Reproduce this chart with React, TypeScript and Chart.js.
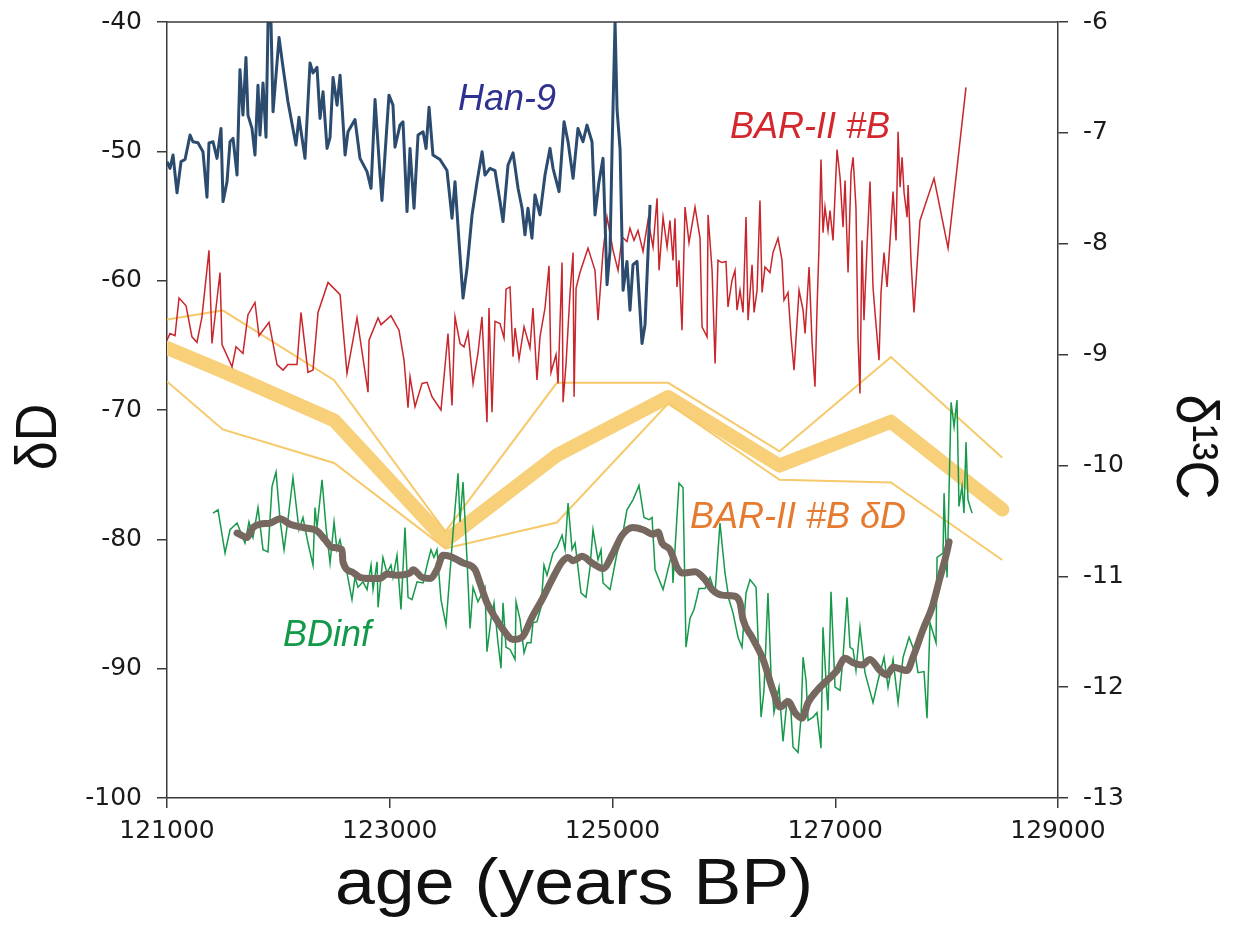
import { useEffect, useRef } from 'react';
import { Chart, registerables } from 'chart.js';

Chart.register(...registerables);

// ---------- Han-9 (δ13C, right axis) ----------
const hanAge = [121000,121027,121054,121090,121126,121162,121207,121233,121278,121323,
121359,121377,121413,121449,121485,121503,121539,121566,121593,121629,
121655,121682,121709,121727,121763,121790,121817,121835,121862,121889,
121907,121934,121952,122006,122042,122086,122158,122185,122239,122284,
122311,122347,122374,122401,122437,122464,122491,122527,122554,122599,
122625,122688,122733,122796,122832,122868,122913,122930,122957,122993,
123029,123047,123092,123119,123155,123182,123218,123254,123299,123326,
123353,123388,123451,123514,123559,123586,123622,123658,123694,123739,
123784,123829,123855,123900,123945,123990,124017,124062,124107,124152,
124188,124214,124241,124277,124304,124349,124394,124439,124466,124520,
124565,124601,124646,124690,124735,124771,124816,124843,124879,124915,
124951,124978,124996,125023,125041,125068,125095,125130,125157,125184,
125220,125265,125292,125337];
const hanC = [-7.26,-7.32,-7.20,-7.54,-7.26,-7.24,-7.02,-7.08,-7.09,-7.17,
-7.58,-7.09,-7.08,-7.23,-6.96,-7.62,-7.44,-7.08,-7.05,-7.38,
-6.43,-6.84,-6.32,-6.84,-6.96,-7.20,-6.57,-7.02,-6.55,-7.04,
-6.01,-6.01,-6.81,-6.14,-6.41,-6.72,-7.11,-6.86,-7.23,-6.37,
-6.46,-6.41,-6.87,-6.63,-7.14,-7.04,-6.50,-6.75,-6.48,-7.20,
-6.99,-6.88,-7.23,-7.35,-7.50,-6.70,-7.38,-7.61,-7.20,-6.66,
-6.75,-7.13,-6.93,-6.90,-7.71,-7.14,-7.68,-7.02,-6.99,-7.14,
-6.77,-7.20,-7.24,-7.34,-7.77,-7.44,-7.98,-8.49,-8.22,-7.74,
-7.44,-7.17,-7.38,-7.32,-7.34,-7.62,-7.80,-7.29,-7.18,-7.50,
-7.68,-7.92,-7.68,-7.95,-7.56,-7.74,-7.38,-7.14,-7.32,-7.53,
-6.90,-7.08,-7.41,-6.96,-7.08,-6.93,-7.08,-7.74,-7.44,-7.23,
-8.37,-8.06,-7.15,-6.00,-6.79,-7.15,-8.42,-8.16,-8.60,-8.19,
-8.16,-8.90,-8.73,-7.65];

// ---------- BAR-II #B (δ13C, right axis) ----------
const barAge = [121000,121027,121072,121108,121171,121224,121269,121314,121377,121404,
121476,121494,121584,121620,121682,121727,121790,121826,121916,121988,
122042,122086,122167,122203,122266,122311,122356,122446,122554,122616,
122706,122805,122814,122895,122922,123011,123083,123128,123164,123182,
123227,123290,123335,123379,123460,123523,123559,123586,123631,123667,
123703,123748,123792,123828,123873,123891,123918,123945,123990,124026,
124044,124080,124107,124125,124161,124206,124259,124286,124322,124349,
124394,124430,124448,124493,124511,124547,124556,124583,124619,124646,
124655,124673,124708,124780,124843,124870,124915,124951,125005,125050,
125086,125130,125157,125193,125229,125274,125319,125364,125400,125418,
125454,125490,125516,125543,125561,125579,125597,125624,125651,125687,
125741,125786,125804,125849,125858,125894,125921,125947,125983,126019,
126037,126073,126100,126118,126145,126172,126199,126217,126253,126271,
126298,126324,126343,126369,126414,126441,126486,126522,126540,126576,
126603,126630,126675,126711,126729,126765,126792,126818,126836,126854,
126872,126890,126908,126935,126953,126980,127016,127043,127070,127088,
127115,127142,127160,127186,127204,127222,127240,127258,127285,127312,
127339,127357,127393,127411,127438,127465,127492,127519,127546,127564,
127582,127600,127618,127645,127654,127680,127707,127761,127887,128013,
128174];
const barC = [-8.87,-8.81,-8.83,-8.49,-8.56,-8.84,-8.89,-8.66,-8.06,-8.90,
-8.26,-8.91,-9.11,-8.93,-8.99,-8.64,-8.53,-8.83,-8.71,-9.09,
-9.14,-9.09,-9.09,-8.62,-9.16,-9.14,-8.62,-8.35,-8.46,-9.17,
-8.67,-9.34,-8.87,-8.67,-8.73,-8.65,-8.78,-9.05,-9.48,-9.20,
-9.47,-9.26,-9.25,-9.38,-9.50,-8.81,-9.46,-8.66,-8.90,-8.93,
-8.80,-9.26,-8.99,-8.66,-9.61,-8.58,-9.52,-8.70,-8.72,-8.85,
-8.41,-8.39,-9.02,-8.76,-9.04,-8.75,-8.94,-8.58,-9.23,-8.84,
-8.58,-8.20,-9.16,-9.00,-9.26,-8.17,-9.43,-9.08,-8.44,-8.08,
-9.38,-8.40,-8.26,-8.04,-8.24,-8.69,-8.07,-7.76,-8.06,-8.24,
-7.94,-7.98,-7.86,-7.97,-7.88,-8.07,-7.79,-8.03,-7.59,-8.24,
-7.76,-8.03,-7.79,-8.15,-7.77,-8.39,-8.15,-8.78,-7.67,-7.99,
-7.67,-7.95,-8.75,-8.84,-7.74,-8.24,-9.08,-8.15,-8.17,-8.16,
-8.57,-8.33,-8.24,-8.60,-8.42,-8.62,-7.76,-8.69,-8.19,-8.62,
-8.42,-7.61,-8.44,-8.21,-8.26,-8.08,-7.95,-8.15,-8.51,-8.44,
-8.84,-9.14,-8.42,-8.60,-8.81,-8.21,-8.90,-9.29,-8.60,-8.03,
-7.24,-7.90,-7.67,-7.88,-7.70,-7.97,-7.15,-7.40,-7.85,-7.43,
-8.26,-7.36,-7.22,-7.67,-8.84,-9.35,-7.97,-8.69,-8.03,-7.44,
-8.39,-8.62,-9.05,-8.44,-8.08,-8.39,-7.97,-7.53,-7.97,-6.99,
-7.49,-7.22,-7.54,-7.76,-7.47,-8.15,-8.62,-7.79,-7.41,-8.04,
-6.59];

// ---------- BDinf (δ13C, right axis) ----------
const bdAge = [121413,121458,121521,121566,121629,121673,121700,121736,121772,121817,
121862,121907,121943,121979,122015,122051,122086,122131,122185,122221,
122266,122311,122329,122347,122392,122428,122464,122500,122526,122553,
122616,122661,122688,122715,122760,122796,122832,122850,122886,122895,
122939,122975,123011,123029,123065,123101,123137,123164,123200,123245,
123299,123335,123370,123397,123424,123460,123505,123568,123613,123631,
123658,123694,123721,123748,123792,123855,123873,123909,123936,123972,
123999,124017,124044,124080,124125,124134,124170,124206,124233,124268,
124286,124322,124358,124385,124412,124466,124502,124547,124574,124601,
124637,124664,124717,124762,124798,124825,124870,124897,124915,124978,
125041,125086,125130,125184,125238,125283,125328,125355,125382,125454,
125534,125543,125597,125633,125660,125696,125732,125777,125831,125876,
125921,125965,126010,126046,126082,126127,126163,126199,126235,126289,
126334,126360,126396,126423,126450,126495,126531,126567,126603,126621,
126666,126693,126711,126738,126756,126801,126836,126872,126890,126917,
126935,126962,126998,127043,127070,127106,127133,127160,127186,127222,
127267,127339,127384,127438,127474,127519,127564,127609,127663,127716,
127743,127797,127824,127851,127905,127914,127968,127977,128004,128040,
128067,128093,128111,128138,128156,128174,128192,128228];
const bdC = [-10.43,-10.40,-10.79,-10.58,-10.52,-10.63,-10.70,-10.51,-10.65,-10.38,
-10.76,-10.78,-10.19,-10.06,-10.49,-10.76,-10.49,-10.11,-10.58,-10.47,
-10.70,-10.90,-10.38,-10.56,-10.13,-10.56,-10.88,-10.51,-10.76,-10.67,
-10.97,-11.21,-11.01,-11.10,-11.05,-11.12,-10.90,-11.12,-10.87,-11.28,
-10.83,-10.97,-10.90,-11.01,-10.81,-11.30,-10.56,-11.19,-11.21,-11.05,
-11.06,-10.90,-10.76,-10.83,-10.76,-11.21,-11.44,-10.61,-10.07,-10.51,
-10.15,-10.85,-11.47,-11.10,-11.23,-11.10,-11.68,-11.39,-11.24,-11.60,
-11.83,-11.24,-11.64,-11.66,-11.75,-11.23,-11.39,-11.69,-11.60,-11.60,
-11.42,-11.41,-11.28,-10.90,-10.99,-10.79,-10.74,-10.63,-10.76,-10.34,
-10.76,-10.70,-11.15,-11.19,-10.92,-10.58,-10.85,-10.76,-11.06,-11.12,
-10.79,-10.65,-10.40,-10.31,-10.18,-10.47,-10.49,-10.47,-10.94,-11.12,
-10.79,-11.06,-10.16,-10.20,-11.64,-11.38,-11.30,-11.11,-11.11,-11.01,
-11.15,-10.52,-10.97,-11.21,-11.33,-11.55,-11.64,-11.15,-11.03,-11.10,
-12.27,-12.03,-11.15,-11.87,-12.23,-12.00,-12.49,-12.12,-12.23,-12.54,
-12.59,-12.27,-11.73,-11.94,-12.30,-12.27,-12.23,-12.55,-11.46,-11.94,
-12.21,-11.14,-12.00,-12.03,-11.73,-11.19,-11.64,-11.66,-11.85,-11.46,
-11.87,-12.14,-11.94,-11.73,-12.00,-11.75,-12.14,-11.73,-11.55,-11.69,
-11.87,-11.86,-12.28,-11.42,-11.60,-10.83,-10.79,-10.25,-11.01,-9.43,
-9.65,-9.41,-10.37,-10.19,-10.43,-9.79,-10.31,-10.43];

// ---------- BDinf smoothed (δ13C, right axis) ----------
const smAge = [121629,121718,121772,121835,121925,122015,122104,122221,122347,122419,
122482,122571,122580,122661,122733,122823,122913,122975,123065,123182,
123209,123290,123361,123424,123478,123541,123658,123766,123810,123873,
123945,124017,124107,124188,124277,124367,124457,124547,124601,124646,
124726,124816,124915,125005,125086,125184,125274,125364,125409,125445,
125516,125579,125624,125741,125831,125894,125983,126100,126145,126172,
126253,126352,126441,126504,126576,126639,126702,126756,126836,126926,
127016,127088,127160,127240,127312,127402,127465,127519,127645,127698,
127788,127869,127941,127995,128022];
const smC = [-10.61,-10.65,-10.56,-10.53,-10.52,-10.48,-10.53,-10.56,-10.59,-10.67,
-10.74,-10.76,-10.87,-10.96,-11.01,-11.02,-11.02,-10.98,-10.99,-10.97,
-10.94,-11.01,-11.02,-10.94,-10.81,-10.82,-10.88,-10.94,-11.06,-11.24,
-11.37,-11.48,-11.57,-11.55,-11.37,-11.21,-11.03,-10.87,-10.83,-10.86,
-10.82,-10.88,-10.93,-10.79,-10.63,-10.56,-10.58,-10.62,-10.60,-10.70,
-10.76,-10.92,-10.97,-10.96,-11.03,-11.12,-11.17,-11.18,-11.24,-11.39,
-11.55,-11.75,-12.03,-12.18,-12.13,-12.23,-12.28,-12.14,-12.03,-11.94,
-11.85,-11.74,-11.78,-11.80,-11.75,-11.85,-11.89,-11.82,-11.85,-11.73,
-11.48,-11.28,-11.01,-10.81,-10.69];

// ---------- BAR-II #B δD (left axis) ----------
const ddAge = [121000,121500,122500,123500,124500,125500,126500,127500,128500];
const ddMean = [-65.2,-67.0,-70.8,-80.1,-73.5,-69.0,-74.3,-70.9,-77.7];
const ddUpper = [-63.0,-62.3,-67.7,-79.4,-67.9,-67.9,-73.2,-65.9,-73.7];
const ddLower = [-67.8,-71.5,-74.1,-80.7,-78.7,-69.5,-75.4,-75.6,-81.6];

// ---------- axes ----------
const xMin = 121000, xMax = 129000, xStep = 2000;
const dMin = -100, dMax = -40, dStep = 10;
const cMin = -13, cMax = -6, cStep = 1;

const pts = (xs: number[], ys: number[]) => {
  const n = Math.min(xs.length, ys.length);
  const out: { x: number; y: number }[] = [];
  for (let i = 0; i < n; i++) out.push({ x: xs[i], y: ys[i] });
  return out;
};

const TICK_FONT = { family: '"DejaVu Sans", sans-serif', size: 25 };
const AX = '#3a3a3a';

function drawText(ctx: CanvasRenderingContext2D, text: string, x: number, y: number, font: string, color: string, rot = 0, sx = 1, sy = 1) {
  ctx.save();
  ctx.translate(x, y);
  ctx.rotate(rot);
  ctx.scale(sx, sy);
  ctx.font = font;
  ctx.fillStyle = color;
  ctx.textAlign = 'center';
  ctx.textBaseline = 'middle';
  ctx.fillText(text, 0, 0);
  ctx.restore();
}

const textPlugin = {
  id: 'texts',
  afterDraw(chart: any) {
    const { ctx, chartArea, scales } = chart;
    ctx.save();
    ctx.strokeStyle = AX;
    ctx.lineWidth = 1.5;
    ctx.beginPath();
    ctx.moveTo(chartArea.left, chartArea.top);
    ctx.lineTo(chartArea.right, chartArea.top);
    ctx.stroke();
    ctx.restore();

    const sx = scales.x, sc = scales.y2, sd = scales.y;
    const it = 'italic 36px "Liberation Sans", Arial, sans-serif';
    drawText(ctx, 'Han-9', sx.getPixelForValue(124053), sc.getPixelForValue(-6.70), it, '#2e3190');
    drawText(ctx, 'BAR-II #B', sx.getPixelForValue(126774), sc.getPixelForValue(-6.96), it, '#d4262d');
    drawText(ctx, 'BAR-II #B δD', sx.getPixelForValue(126666), sd.getPixelForValue(-78.35), it, '#e67a2e');
    drawText(ctx, 'BDinf', sx.getPixelForValue(122437), sc.getPixelForValue(-11.54), it, '#13994a');

    drawText(ctx, 'age (years BP)', 574, 886, '64px "Liberation Sans", Arial, sans-serif', '#111', 0, 1.12, 1);
    drawText(ctx, 'δD', 40, 437, '52px "Liberation Sans", Arial, sans-serif', '#111', -Math.PI / 2, 1, 1.12);
    drawText(ctx, 'δ¹³C', 1193, 447, '54px "Liberation Sans", Arial, sans-serif', '#111', Math.PI / 2, 1, 1.1);
  },
};

const fitY = (w: number) => (s: any) => {
  s.width = w;
  s.paddingTop = 0;
  s.paddingBottom = 0;
};

export default function App() {
  const ref = useRef<HTMLCanvasElement>(null);
  useEffect(() => {
    if (!ref.current) return;
    const chart = new Chart(ref.current, {
      type: 'line',
      data: {
        datasets: [
          { label: 'Han-9', data: pts(hanAge, hanC), yAxisID: 'y2', borderColor: '#2b4b6f', borderWidth: 3, pointRadius: 0, tension: 0, borderJoinStyle: 'round' },
          { label: 'BAR-II #B', data: pts(barAge, barC), yAxisID: 'y2', borderColor: '#c8262c', borderWidth: 1.5, pointRadius: 0, tension: 0 },
          { label: 'BDinf smooth', data: pts(smAge, smC), yAxisID: 'y2', borderColor: '#76685f', borderWidth: 7, pointRadius: 0, cubicInterpolationMode: 'monotone', borderCapStyle: 'round', borderJoinStyle: 'round' },
          { label: 'BDinf', data: pts(bdAge, bdC), yAxisID: 'y2', borderColor: '#16994a', borderWidth: 1.5, pointRadius: 0, tension: 0 },
          { label: 'δD upper', data: pts(ddAge, ddUpper), yAxisID: 'y', borderColor: '#f6c96a', borderWidth: 2, pointRadius: 0, tension: 0 },
          { label: 'δD lower', data: pts(ddAge, ddLower), yAxisID: 'y', borderColor: '#f6c96a', borderWidth: 2, pointRadius: 0, tension: 0 },
          { label: 'BAR-II #B δD', data: pts(ddAge, ddMean), yAxisID: 'y', borderColor: '#f8d07a', borderWidth: 14, pointRadius: 0, tension: 0, borderCapStyle: 'round', borderJoinStyle: 'round' },
        ],
      },
      options: {
        animation: false,
        responsive: false,
        maintainAspectRatio: false,
        devicePixelRatio: 1,
        layout: { autoPadding: false, padding: { top: 22, left: 0, right: 0, bottom: 0 } },
        plugins: { legend: { display: false }, tooltip: { enabled: false }, title: { display: false } },
        scales: {
          x: {
            type: 'linear', position: 'bottom', min: xMin, max: xMax,
            ticks: { stepSize: xStep, autoSkip: false, maxRotation: 0, font: TICK_FONT, color: '#1a1a1a', padding: 8, callback: (v: any) => String(v) },
            grid: { drawOnChartArea: false, drawTicks: true, tickLength: 10, color: AX, lineWidth: 1.5 },
            border: { display: true, color: AX, width: 1.5 },
            afterFit: (s: any) => { s.height = 135; s.paddingLeft = 0; s.paddingRight = 0; },
          },
          y: {
            type: 'linear', position: 'left', min: dMin, max: dMax,
            ticks: { stepSize: dStep, font: TICK_FONT, color: '#1a1a1a', padding: 15 },
            grid: { drawOnChartArea: false, drawTicks: true, tickLength: 10, color: AX, lineWidth: 1.5 },
            border: { display: true, color: AX, width: 1.5 },
            afterFit: fitY(167),
          },
          y2: {
            type: 'linear', position: 'right', min: cMin, max: cMax,
            ticks: { stepSize: cStep, font: TICK_FONT, color: '#1a1a1a', padding: 15 },
            grid: { drawOnChartArea: false, drawTicks: true, tickLength: 10, color: AX, lineWidth: 1.5 },
            border: { display: true, color: AX, width: 1.5 },
            afterFit: fitY(177),
          },
        },
      },
      plugins: [textPlugin],
    } as any);
    return () => chart.destroy();
  }, []);
  return (
    <div style={{ position: 'absolute', left: 0, top: 0, width: 1235, height: 933, background: '#fff' }}>
      <canvas ref={ref} width={1235} height={933} style={{ display: 'block', width: 1235, height: 933 }} />
    </div>
  );
}
